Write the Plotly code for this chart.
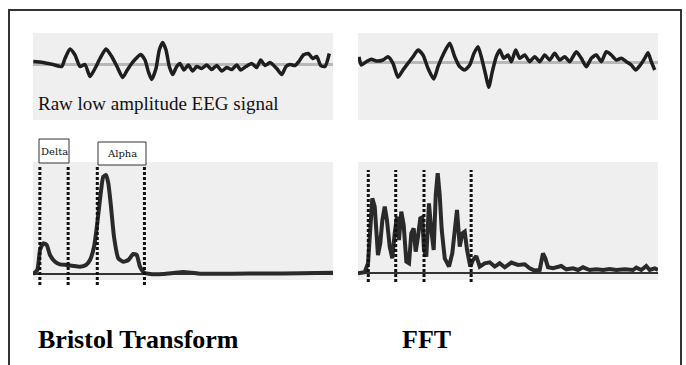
import plotly.graph_objects as go

W, H = 686, 365

# ---- Raw EEG signals (sample index, amplitude) ----
bt_eeg_t = [0.3, 10, 20, 28.7, 32, 37, 42, 47, 52, 57, 62, 67, 73, 78.7, 84, 89.7, 94.3, 98.7,
            103, 107.7, 112, 115.3, 118.7, 123, 126.3, 129.7, 133, 136.3, 139.7, 143.7, 147,
            151, 155.3, 159.7, 163.7, 168.7, 173.7, 178.7, 183.7, 188.7, 193.7, 198.7, 203.7,
            207.7, 213, 218.7, 223.7, 227.7, 232, 237, 243.7, 248.7, 253, 257, 262, 266.3,
            270.3, 275.3, 279.7, 283.7, 287.7, 292, 296.3]
bt_eeg_v = [3, 2, 0, -2, 6, 15.5, 9.5, -2, 0, -12, -4, 6, 15.5, 8, -2, -13, -5.5, 1,
            6, 10, 4.5, -7, -15, -4, 14.5, 22, 14.5, -2, -10, -2, 1,
            -5.5, -0.5, -6.5, -2, -4, -0.5, -5, -1, -6.5, -3, -5, -0.5,
            -5.5, -2, 1, -3, 4.5, -1, 2, -4, -10, -2, 0, -1, 3.5,
            9.5, 11, 6, 8, -1, -2, 11]

fft_eeg_t = [1, 3.3, 8.3, 13.3, 18.3, 25, 30, 35, 40, 45, 50, 55, 60, 65, 70, 75.7, 80, 85,
             91.7, 96.7, 101.7, 106.7, 111.7, 116, 120, 123.3, 127.7, 130.7, 134.3, 138.3,
             141.7, 145.7, 150, 153.3, 157.7, 161.7, 166.7, 171.7, 176.7, 181.7, 186.7,
             191.7, 196.7, 201.7, 206.7, 211.7, 218.3, 223.3, 228.3, 233.3, 238.3, 243.3,
             248.3, 253.3, 258.3, 263.3, 268.3, 273.3, 277.7, 282.3, 286.7, 290, 293.3, 296.7]
fft_eeg_v = [5.6, -2.7, 0.6, 3, 1.3, 2.3, 5.6, -1, -15, -7.7, -1, 5.6, 12.3, 7.3, -6, -16.7, -4.4, 7.3,
             19, 5.6, -4.4, -7.7, -2.7, 9, 15.6, 5.6, -12.7, -25, -9.4, 5.6,
             12.3, 4, 7.3, 0.6, 12.3, 4, 7.3, 0.6, 5.6, 0.6, 7.3,
             2.3, 9, 2.3, 5.6, 0.6, 10.6, 4, -4.4, 4, 7.3, 0.6,
             10.6, 7.3, 2.3, 4, 0.6, -2.7, -7.7, -2.7, 4, 9.6, 0.6, -7.7]

# ---- Spectra (frequency Hz, power) ----
bt_freq = [0.03, 0.5, 0.82, 1.2, 1.6, 1.98, 2.57, 3.15, 3.93, 4.7, 5.48, 6.18, 6.65, 7.12, 7.5,
           7.9, 8.2, 8.52, 8.79, 9.1, 9.45, 9.95, 10.54, 11.12, 11.7, 12.1, 12.48, 12.95,
           13.65, 15.2, 16.37, 17.54, 18.5, 19.5, 23.3, 27.2, 31.2, 35]
bt_power = [0, 4, 24, 30.7, 29, 19, 12.3, 9.7, 9, 8, 7.3, 9, 14, 27.3, 50.7,
            80.7, 97.3, 99, 90.7, 67.3, 37.3, 15.7, 12.3, 14, 20, 19, 7.3, 1.3,
            0, 0, 1, 2, 1.3, 0.3, 0.3, 0.5, 0.7, 1.3]

fft_freq = [0, 0.78, 1.17, 1.43, 1.67, 1.95, 2.14, 2.33, 2.6, 2.84, 3.12, 3.38, 3.7, 4.0, 4.28,
            4.55, 4.78, 5.05, 5.33, 5.64, 5.95, 6.22, 6.5, 6.73, 7.0, 7.27, 7.5, 7.7, 7.97,
            8.28, 8.55, 8.83, 9.07, 9.3, 9.53, 9.77, 10.12, 10.62, 11.0, 11.28, 11.55, 11.87,
            12.17, 12.45, 12.72, 13.1, 13.42, 13.8, 14.2, 14.78, 15.37, 15.95, 16.53, 17.12,
            17.89, 18.67, 19.45, 20.03, 20.62, 21.2, 21.58, 21.85, 22.17, 22.75, 23.72, 24.3,
            25.08, 25.67, 26.25, 27.03, 27.8, 28.58, 29.37, 30.13, 31.12, 32.08, 32.47, 33.05,
            33.63, 34.03, 34.62, 35.0]
fft_power = [0, 1, 10, 50, 75, 66.7, 36.7, 18.3, 30, 53, 66.7, 53, 26.7, 15, 40,
             56.7, 33.3, 61.7, 48.3, 11.7, 10, 40, 45, 21.7, 36.7, 55, 56, 23.3, 16.7,
             70, 43.3, 23.3, 78.3, 100, 78.3, 43.3, 15, 6.7, 20, 46.7, 63.3, 26.7,
             40, 41.7, 23.3, 6.7, 13.3, 17.3, 6.7, 10, 11, 6.7, 10, 6,
             10.7, 8.3, 9, 5, 2.7, 3.3, 20, 15, 6, 5, 7.3, 4,
             5, 3.3, 6, 3.3, 4, 3.3, 4.3, 3.3, 4, 3.3, 5.7, 3.3,
             7.3, 3.3, 5, 3.3]

bt_band_edges = [0.8, 4.1, 7.5, 13.0]
fft_band_edges = [1.2, 4.4, 7.7, 13.2]
band_labels = ["Delta", "Alpha"]

def X(px):
    return px / W

def Y(py):
    return 1 - py / H

SERIF = "Liberation Serif, Times New Roman, serif"
INK = "#1e1e1e"

fig = go.Figure()

fig.add_trace(go.Scatter(x=bt_eeg_t, y=bt_eeg_v, mode="lines", xaxis="x", yaxis="y",
                         line=dict(color=INK, width=3.5, shape="spline", smoothing=0.6),
                         showlegend=False, hoverinfo="skip"))
fig.add_trace(go.Scatter(x=fft_eeg_t, y=fft_eeg_v, mode="lines", xaxis="x2", yaxis="y2",
                         line=dict(color=INK, width=3.5, shape="spline", smoothing=0.6),
                         showlegend=False, hoverinfo="skip"))
fig.add_trace(go.Scatter(x=bt_freq, y=bt_power, mode="lines", xaxis="x3", yaxis="y3",
                         line=dict(color="#2a2a2a", width=4, shape="spline", smoothing=0.5),
                         showlegend=False, hoverinfo="skip"))
fig.add_trace(go.Scatter(x=fft_freq, y=fft_power, mode="lines", xaxis="x4", yaxis="y4",
                         line=dict(color="#2a2a2a", width=4),
                         showlegend=False, hoverinfo="skip"))

hidden = dict(showgrid=False, showticklabels=False, ticks="", showline=False, fixedrange=True)

fig.update_layout(
    width=W, height=H,
    margin=dict(l=0, r=0, t=0, b=0),
    paper_bgcolor="white",
    plot_bgcolor="#efefef",
    xaxis=dict(domain=[X(33), X(333)], range=[0, 300], zeroline=False, **hidden),
    yaxis=dict(domain=[Y(120), Y(33)], range=[-55.5, 31.5], zeroline=True,
               zerolinecolor="#b8b8b8", zerolinewidth=3, **hidden),
    xaxis2=dict(domain=[X(358), X(658)], range=[0, 300], zeroline=False, anchor="y2", **hidden),
    yaxis2=dict(domain=[Y(120), Y(33)], range=[-57.7, 29.3], zeroline=True, anchor="x2",
                zerolinecolor="#b8b8b8", zerolinewidth=3, **hidden),
    xaxis3=dict(domain=[X(33), X(333)], range=[0, 35], zeroline=False, anchor="y3", **hidden),
    yaxis3=dict(domain=[Y(280), Y(162)], range=[-6, 112], zeroline=True, anchor="x3",
                zerolinecolor="#333333", zerolinewidth=2, **hidden),
    xaxis4=dict(domain=[X(358), X(658)], range=[0, 35], zeroline=False, anchor="y4", **hidden),
    yaxis4=dict(domain=[Y(280), Y(162)], range=[-6.7, 111.3], zeroline=True, anchor="x4",
                zerolinecolor="#333333", zerolinewidth=2, **hidden),
)

shapes = []
# outer frame (open at the bottom)
shapes.append(dict(type="rect", xref="paper", yref="paper", x0=X(9), x1=X(681), y0=-0.2, y1=Y(10),
                   line=dict(color="#333333", width=2), fillcolor="rgba(0,0,0,0)", layer="above"))
# band boundary dotted lines
for f in bt_band_edges:
    shapes.append(dict(type="line", xref="x3", yref="paper", x0=f, x1=f, y0=Y(285), y1=Y(167),
                       line=dict(color="#111111", width=3, dash="3px,2px"), layer="above"))
for f in fft_band_edges:
    shapes.append(dict(type="line", xref="x4", yref="paper", x0=f, x1=f, y0=Y(282), y1=Y(170),
                       line=dict(color="#111111", width=3, dash="3px,2px"), layer="above"))
# band label boxes
box_px = [(39, 69, 139, 163), (98, 146, 142, 165)]
for (x0, x1, y0, y1) in box_px:
    shapes.append(dict(type="rect", xref="paper", yref="paper", x0=X(x0), x1=X(x1), y0=Y(y1), y1=Y(y0),
                       line=dict(color="#333333", width=1), fillcolor="white", layer="above"))
fig.update_layout(shapes=shapes)

ann = []
for lbl, (x0, x1, y0, y1) in zip(band_labels, box_px):
    ann.append(dict(text=lbl, xref="paper", yref="paper", x=X((x0 + x1) / 2), y=Y((y0 + y1) / 2),
                    xanchor="center", yanchor="middle", showarrow=False,
                    font=dict(family="DejaVu Serif, serif", size=10, color="#111111")))
ann.append(dict(text="Raw low amplitude EEG signal", xref="paper", yref="paper", x=X(36), y=Y(103),
                xanchor="left", yanchor="middle", showarrow=False,
                font=dict(family=SERIF, size=19, color="#111111")))
ann.append(dict(text="<b>Bristol Transform</b>", xref="paper", yref="paper", x=X(36), y=Y(339),
                xanchor="left", yanchor="middle", showarrow=False,
                font=dict(family=SERIF, size=26, color="#000000")))
ann.append(dict(text="<b>FFT</b>", xref="paper", yref="paper", x=X(400), y=Y(339),
                xanchor="left", yanchor="middle", showarrow=False,
                font=dict(family=SERIF, size=26, color="#000000")))
fig.update_layout(annotations=ann)

fig.write_html("out.html")
